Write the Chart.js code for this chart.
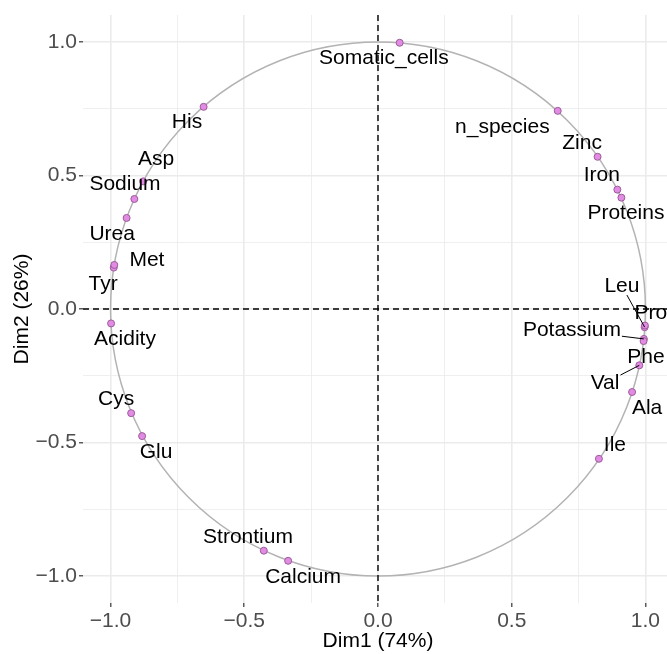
<!DOCTYPE html>
<html>
<head>
<meta charset="utf-8">
<script src="https://cdn.jsdelivr.net/npm/chart.js@4/dist/chart.umd.min.js"></script>
<style>
  html, body { margin: 0; padding: 0; background: #fff; overflow: hidden; }
  #wrap { width: 678px; height: 654px; }
</style>
</head>
<body>
<div id="wrap"><canvas id="cv" width="678" height="654"></canvas></div>
<script>
/* PCA variable correlation circle — Dim1 (74%) vs Dim2 (26%).
   Points sit on the unit circle; labels were placed by a repel pass in the original.
   The panel is symmetric and runs a few px past the right edge of the window. */
const varNames = ["Somatic_cells", "n_species", "Zinc", "Iron", "Proteins", "Leu", "Pro", "Potassium",
  "Phe", "Val", "Ala", "Ile", "Calcium", "Strontium", "Glu", "Cys", "Acidity", "Tyr", "Met", "Urea",
  "Sodium", "Asp", "His"];
const dim1 = [0.081, 0.672, 0.821, 0.895, 0.910, 0.997, 0.998, 0.994, 0.993, 0.977, 0.950, 0.826,
  -0.336, -0.427, -0.882, -0.923, -0.998, -0.988, -0.986, -0.940, -0.911, -0.878, -0.652];
const dim2 = [0.997, 0.742, 0.570, 0.447, 0.417, -0.068, -0.062, -0.112, -0.120, -0.211, -0.311, -0.561,
  -0.943, -0.905, -0.476, -0.390, -0.054, 0.155, 0.165, 0.341, 0.412, 0.478, 0.757];
// repelled label anchors, in data units
const labelX = [0.022, 0.465, 0.763, 0.837, 0.927, 0.912, 1.020, 0.725, 1.002, 0.849, 1.006, 0.886,
  -0.280, -0.486, -0.830, -0.979, -0.946, -1.028, -0.864, -0.994, -0.946, -0.830, -0.714];
const labelY = [0.940, 0.682, 0.622, 0.502, 0.360, 0.086, -0.015, -0.079, -0.180, -0.277, -0.371, -0.509,
  -1.004, -0.854, -0.536, -0.337, -0.112, 0.094, 0.184, 0.281, 0.467, 0.562, 0.700];
const withSegment = ["Leu", "Potassium", "Val"];
const majorTicks = [-1, -0.5, 0, 0.5, 1];
const minorTicks = [-0.75, -0.25, 0.25, 0.75];
const axisTitleX = "Dim1 (74%)", axisTitleY = "Dim2 (26%)";

const FONT = "'Liberation Sans', Arial, sans-serif";
const GRID = "#ebebeb";
const allTicks = [...majorTicks, ...minorTicks].sort((a, b) => a - b);
const isMajor = v => majorTicks.some(m => Math.abs(m - v) < 1e-9);
const fmtTick = v => (v < 0 ? "\u2212" : "") + Math.abs(v).toFixed(1);

const gridOpts = {
  color: GRID,
  lineWidth: c => c.tick && isMajor(c.tick.value) ? 1.6 : 0.8,
  tickColor: c => c.tick && isMajor(c.tick.value) ? "#333333" : "rgba(0,0,0,0)",
  tickWidth: 1.2, tickLength: 4, drawTicks: true
};
const tickOpts = {
  font: { family: FONT, size: 21 }, color: "#4d4d4d", autoSkip: false, maxRotation: 0,
  callback: v => isMajor(v) ? fmtTick(v) : ""
};

const circlePlugin = {
  id: "circle",
  beforeDatasetsDraw(chart) {
    const { ctx, chartArea: a, scales: { x, y } } = chart;
    const cx = x.getPixelForValue(0), cy = y.getPixelForValue(0);
    ctx.save();
    ctx.beginPath();
    ctx.ellipse(cx, cy, x.getPixelForValue(1) - cx, cy - y.getPixelForValue(1), 0, 0, Math.PI * 2);
    ctx.strokeStyle = "#b3b3b3"; ctx.lineWidth = 1.5; ctx.stroke();
    ctx.setLineDash([6, 4]); ctx.strokeStyle = "#000"; ctx.lineWidth = 1.4;
    ctx.beginPath(); ctx.moveTo(a.left, cy); ctx.lineTo(a.right, cy); ctx.stroke();
    ctx.beginPath(); ctx.moveTo(cx, a.top); ctx.lineTo(cx, a.bottom); ctx.stroke();
    ctx.restore();
  },
  afterDatasetsDraw(chart) {
    const { ctx, scales: { x, y } } = chart;
    ctx.save();
    ctx.font = "21px " + FONT;
    ctx.textAlign = "center"; ctx.textBaseline = "middle"; ctx.fillStyle = "#000";
    varNames.forEach((n, i) => {
      const lx = x.getPixelForValue(labelX[i]), ly = y.getPixelForValue(labelY[i]);
      if (withSegment.includes(n)) {
        const px = x.getPixelForValue(dim1[i]), py = y.getPixelForValue(dim2[i]);
        const hw = ctx.measureText(n).width / 2 + 1, hh = 9;
        const dx = px - lx, dy = py - ly;
        const t = Math.min(hw / Math.abs(dx || 1e-9), hh / Math.abs(dy || 1e-9));
        ctx.beginPath(); ctx.moveTo(lx + dx * t, ly + dy * t); ctx.lineTo(px, py);
        ctx.strokeStyle = "#000"; ctx.lineWidth = 1; ctx.stroke();
      }
      ctx.fillText(n, lx, ly);
    });
    // x title under the centre of the panel
    ctx.fillText(axisTitleX, x.getPixelForValue(0), x.bottom - 13);
    ctx.restore();
  }
};

new Chart(document.getElementById("cv"), {
  type: "scatter",
  data: { datasets: [{
    data: dim1.map((v, i) => ({ x: v, y: dim2[i] })),
    backgroundColor: "#e28be2", borderColor: "#9b5b9b", borderWidth: 1, pointRadius: 3.5
  }] },
  options: {
    responsive: false, animation: false, events: [],
    layout: { padding: { top: 15, right: 0, left: 0, bottom: 0 } },
    plugins: { legend: { display: false }, tooltip: { enabled: false } },
    scales: {
      x: { type: "linear", min: -1.103, max: 1.103,
        afterBuildTicks: s => { s.ticks = allTicks.map(v => ({ value: v })); },
        afterFit: s => { s.height = 51; },
        grid: gridOpts, border: { display: false },
        ticks: { ...tickOpts, padding: 2 },
        title: { display: false } },
      y: { type: "linear", min: -1.101, max: 1.101,
        afterBuildTicks: s => { s.ticks = allTicks.map(v => ({ value: v })); },
        afterFit: s => { s.width = 83; },
        grid: gridOpts, border: { display: false },
        ticks: { ...tickOpts, padding: 2 },
        title: { display: true, text: axisTitleY, color: "#000", font: { family: FONT, size: 21 }, padding: { top: 10, bottom: 0 } } }
    }
  },
  plugins: [circlePlugin]
});
</script>
</body>
</html>
